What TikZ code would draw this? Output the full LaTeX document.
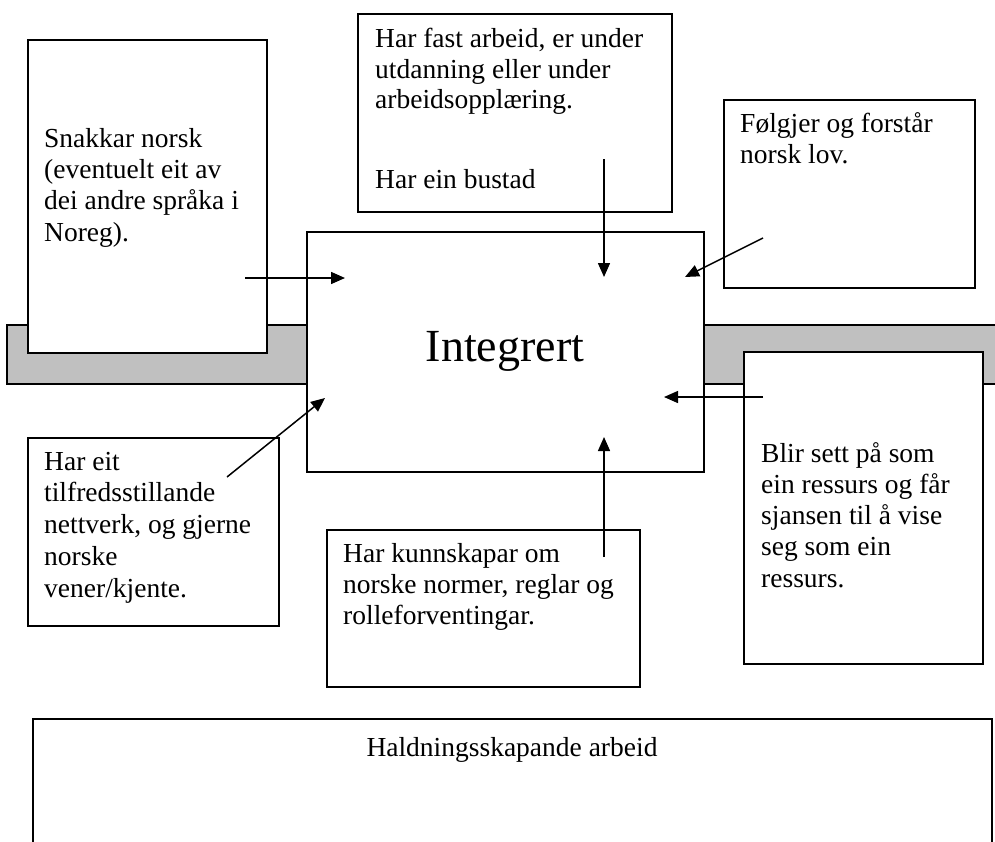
\documentclass[tikz,border=0pt]{standalone}
\usepackage{fontspec}
\setmainfont{Liberation Serif}
\usetikzlibrary{arrows.meta}
\begin{document}
\begin{tikzpicture}[x=1pt,y=-1pt,
  box/.style={draw,line width=2pt,fill=white,rectangle,inner sep=0pt,anchor=north west},
  txt/.style={anchor=base west,inner sep=0pt,align=left,font=\fontsize{27.5}{31}\selectfont},
  arr/.style={line width=1.5pt,-{Triangle[length=14pt,width=12pt]}}]
\useasboundingbox (0,0) rectangle (995,841);
% grey band
\fill[fill={rgb,255:red,192;green,192;blue,192}] (7,325) rectangle (1010,384);
\draw[line width=2pt] (1010,325) -- (7,325) -- (7,384) -- (1010,384);
% boxes
\node[box,minimum width=239pt,minimum height=313pt] (snakk) at (27,39) {};
\node[box,minimum width=314pt,minimum height=198pt] (fast) at (357,13) {};
\node[box,minimum width=251pt,minimum height=188pt] (lov) at (723,99) {};
\node[box,minimum width=397pt,minimum height=240pt] (integ) at (306,231) {};
\node[box,minimum width=239pt,minimum height=312pt] (ressurs) at (743,351) {};
\node[box,minimum width=251pt,minimum height=188pt] (nett) at (27,437) {};
\node[box,minimum width=313pt,minimum height=157pt] (norm) at (326,529) {};
\draw[line width=2pt,fill=white] (33,860) -- (33,719) -- (992,719) -- (992,860);
% texts (base anchor = baseline of the last line)
\node[txt,font=\fontsize{27.5}{31.3}\selectfont] (tsnakk) at (44,241) {Snakkar norsk\\(eventuelt eit av\\dei andre språka i\\Noreg).};
\node[txt,font=\fontsize{27.5}{30.5}\selectfont] (tfast) at (375,188) {Har fast arbeid, er under\\utdanning eller under\\arbeidsopplæring.\\[49pt]Har ein bustad};
\node[txt] (tlov) at (740,163) {Følgjer og forstår\\norsk lov.};
\node[anchor=base,inner sep=0pt,font=\fontsize{46}{50}\selectfont] (tinteg) at (505,361) {Integrert};
\node[txt,font=\fontsize{27.5}{31.2}\selectfont] (tressurs) at (761,587) {Blir sett på som\\ein ressurs og får\\sjansen til å vise\\seg som ein\\ressurs.};
\node[txt,font=\fontsize{27.5}{31.7}\selectfont] (tnett) at (44,597) {Har eit\\tilfredsstillande\\nettverk, og gjerne\\norske\\vener/kjente.};
\node[txt,font=\fontsize{27.5}{30.7}\selectfont] (tnorm) at (343,624) {Har kunnskapar om\\norske normer, reglar og\\rolleforventingar.};
\node[anchor=base,inner sep=0pt,font=\fontsize{27.5}{31}\selectfont] (thald) at (512,756) {Haldningsskapande arbeid};
% arrow ends
\coordinate (a1s) at (245,278); \coordinate (a1e) at (345,278);
\coordinate (a2s) at (604,159); \coordinate (a2e) at (604,277);
\coordinate (a3s) at (763,238); \coordinate (a3e) at (685,277);
\coordinate (a4s) at (763,397); \coordinate (a4e) at (664,397);
\coordinate (a5s) at (604,557); \coordinate (a5e) at (604,437);
\coordinate (a6s) at (227,477); \coordinate (a6e) at (325,398);
\draw[arr] (a1s) -- (a1e);
\draw[arr] (a2s) -- (a2e);
\draw[arr] (a3s) -- (a3e);
\draw[arr] (a4s) -- (a4e);
\draw[arr] (a5s) -- (a5e);
\draw[arr] (a6s) -- (a6e);
\end{tikzpicture}
\end{document}
